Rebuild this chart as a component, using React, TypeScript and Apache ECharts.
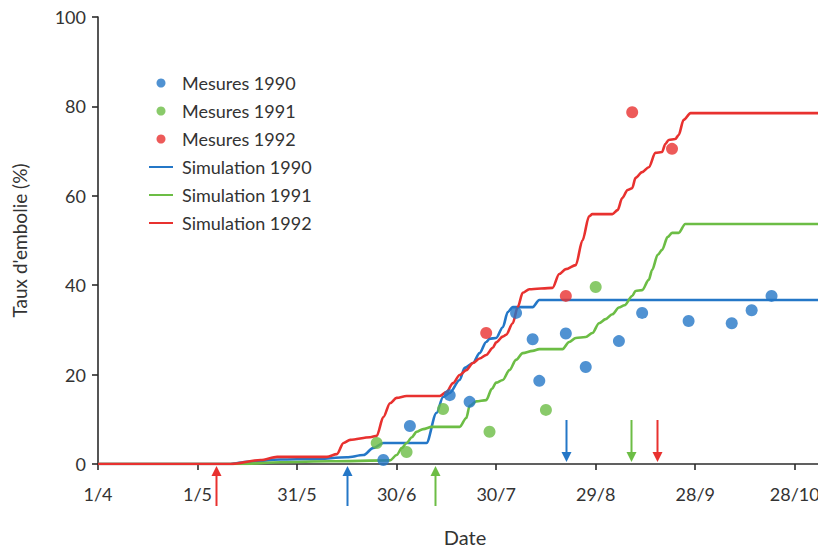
import { useEffect, useRef } from 'react';
import * as echarts from 'echarts';

// x values are days counted from 1 April; ticks every 30 days
const tickLabels = ['1/4', '1/5', '31/5', '30/6', '30/7', '29/8', '28/9', '28/10'];

const mesures1990: [number, number][] = [
  [86, 0.9], [94, 8.5], [106, 15.4], [112, 13.9], [126, 33.8], [131, 27.9],
  [133, 18.6], [141, 29.2], [147, 21.7], [157, 27.5], [164, 33.8], [178, 32],
  [191, 31.5], [197, 34.4], [203, 37.6],
];
const mesures1991: [number, number][] = [
  [84, 4.7], [93, 2.7], [104, 12.3], [118, 7.2], [135, 12.1], [150, 39.6],
];
const mesures1992: [number, number][] = [
  [117, 29.3], [141, 37.6], [161, 78.7], [173, 70.5],
];

const simulation1990: [number, number][] = [
  [0, 0], [40, 0], [45, 0.5], [55, 1], [65, 1.1], [75, 1.5], [80, 2], [83, 3.6],
  [86, 4.7], [99, 4.7], [102, 11.4], [104, 15], [106, 15.9], [109, 18.8],
  [110.5, 21.5], [113, 22.6], [115, 24.8], [117, 27.3], [118, 28], [120, 28.2],
  [122, 30.6], [123.5, 34], [125, 35.1], [131, 35.1], [133, 36.7], [217, 36.7],
];
const simulation1991: [number, number][] = [
  [0, 0], [43, 0], [55, 0.4], [70, 0.6], [88, 0.8], [90, 2], [91.6, 3.6], [93, 4.7],
  [94.6, 6], [96, 7.2], [98, 7.8], [100.6, 8.3], [109, 8.3], [111, 10.3], [112, 13],
  [114, 14], [117, 14.3], [118.7, 16.8], [120, 18.2], [122, 18.8], [124, 21],
  [126, 23.3], [128, 24.8], [131, 25.3], [133, 25.7], [140, 25.7], [142, 27.3],
  [144, 28.2], [147, 28.4], [149, 29.3], [151, 31.5], [153, 32.4], [155, 33.5],
  [157, 35], [158.7, 35.5], [161, 37.6], [162, 38.7], [164, 38.9], [166, 41.2],
  [167, 43.4], [168.7, 46.8], [170, 47.9], [171.7, 50.8], [173, 51.7], [175, 51.7],
  [177, 53.7], [217, 53.7],
];
const simulation1992: [number, number][] = [
  [0, 0], [40, 0], [49, 0.9], [54, 1.6], [69, 1.6], [72, 2.2], [74, 4.7], [76, 5.4],
  [82, 6], [84, 6.3], [86, 10.5], [88, 13.6], [90, 14.8], [93, 15.2], [103, 15.2],
  [105, 16.1], [107, 18.1], [109, 19.9], [111, 21], [113, 22.6], [115, 23.6],
  [117, 24.4], [119, 26], [120, 27.2], [122, 28.5], [123, 28.9], [125, 31.5],
  [126.5, 35.1], [128, 38.3], [130, 39.1], [137, 39.4], [139, 42.5], [141, 43.6],
  [144, 44.5], [146, 50], [148, 55.4], [149, 55.9], [155, 55.9], [156.6, 56.8],
  [158, 59.5], [159.6, 61.3], [161, 61.7], [162, 64], [164, 65.3], [166, 66.4],
  [168, 69.6], [170, 69.8], [171, 71.6], [172, 72.5], [174, 72.7], [175, 73.6],
  [176.5, 77], [178.6, 78.5], [217, 78.5],
];

// event dates marked by arrows: below the axis (pointing up) and above it (pointing down)
const startArrowDays = [75, 101.5, 35.5];
const endArrowDays = [141, 160.5, 168.4];

const BLUE = '#2477C7';
const GREEN = '#6CBD45';
const RED = '#E8312F';
const YEAR_COLORS = [BLUE, GREEN, RED];
const FONT = 'Lato, "Open Sans", sans-serif';
const TEXT = '#333333';
const AXIS = '#2b2b2b';

function simSeries(name: string, data: [number, number][], color: string) {
  return {
    name,
    type: 'line',
    data,
    showSymbol: false,
    symbol: 'none',
    smooth: 0.3,
    smoothMonotone: 'x',
    lineStyle: { color, width: 2.6 },
    itemStyle: { color },
    z: 2,
  };
}

function measSeries(name: string, data: [number, number][], color: string) {
  return {
    name,
    type: 'scatter',
    data,
    symbol: 'circle',
    symbolSize: 12,
    itemStyle: { color },
    z: 3,
  };
}

// vertical arrow with its tip at (x, tipY); dir = -1 points up, 1 points down
function arrow(x: number, tipY: number, length: number, dir: number, color: string) {
  const head = 10;
  const half = 5;
  const baseY = tipY - dir * head;
  return [
    {
      type: 'line',
      silent: true,
      z: 10,
      shape: { x1: x, y1: tipY - dir * length, x2: x, y2: baseY + dir * 1 },
      style: { stroke: color, lineWidth: 2 },
    },
    {
      type: 'polygon',
      silent: true,
      z: 10,
      shape: { points: [[x, tipY], [x - half, baseY], [x + half, baseY]] },
      style: { fill: color },
    },
  ];
}

export default function App() {
  const ref = useRef<HTMLDivElement>(null);

  useEffect(() => {
    if (!ref.current) return;
    const chart = echarts.init(ref.current, undefined, { renderer: 'svg' });
    chart.setOption({
      animation: false,
      backgroundColor: '#ffffff',
      textStyle: { fontFamily: FONT },
      grid: {
        left: 98,
        top: 17,
        right: 0,
        height: 447,
        containLabel: false,
        outerBoundsMode: 'none',
      },
      legend: {
        orient: 'vertical',
        left: 143,
        top: 69,
        itemWidth: 24,
        itemHeight: 9,
        itemGap: 10,
        textStyle: { fontFamily: FONT, fontSize: 18, color: TEXT, lineHeight: 18, padding: [0, 0, 0, 4] },
        data: [
          { name: 'Mesures 1990', icon: 'circle' },
          { name: 'Mesures 1991', icon: 'circle' },
          { name: 'Mesures 1992', icon: 'circle' },
          { name: 'Simulation 1990', itemStyle: { opacity: 0 } },
          { name: 'Simulation 1991', itemStyle: { opacity: 0 } },
          { name: 'Simulation 1992', itemStyle: { opacity: 0 } },
        ],
      },
      xAxis: {
        type: 'value',
        min: 0,
        max: 217,
        interval: 30,
        name: 'Date',
        nameLocation: 'middle',
        nameGap: 63,
        nameTextStyle: { fontFamily: FONT, fontSize: 20, color: TEXT, lineHeight: 20, padding: [0, 0, 0, 14] },
        axisLine: { show: true, onZero: false, lineStyle: { color: AXIS, width: 1.6 } },
        axisTick: { show: true, inside: false, length: 6, lineStyle: { color: AXIS, width: 1.6 } },
        splitLine: { show: false },
        axisLabel: {
          margin: 21,
          fontFamily: FONT,
          fontSize: 18,
          color: TEXT,
          hideOverlap: false,
          formatter: (v: number) => tickLabels[Math.round(v / 30)] ?? '',
        },
      },
      yAxis: {
        type: 'value',
        min: 0,
        max: 100,
        interval: 20,
        name: "Taux d'embolie (%)",
        nameLocation: 'middle',
        nameGap: 69,
        nameTextStyle: { fontFamily: FONT, fontSize: 19, color: TEXT },
        axisLine: { show: true, lineStyle: { color: AXIS, width: 1.6 } },
        axisTick: { show: true, inside: false, length: 6, lineStyle: { color: AXIS, width: 1.6 } },
        splitLine: { show: false },
        axisLabel: { margin: 12, fontFamily: FONT, fontSize: 18, color: TEXT },
      },
      series: [
        simSeries('Simulation 1990', simulation1990, BLUE),
        simSeries('Simulation 1991', simulation1991, GREEN),
        simSeries('Simulation 1992', simulation1992, RED),
        measSeries('Mesures 1990', mesures1990, BLUE),
        measSeries('Mesures 1991', mesures1991, GREEN),
        measSeries('Mesures 1992', mesures1992, RED),
      ],
    });

    // arrows placed at their dates through the x axis scale
    const graphics: any[] = [];
    YEAR_COLORS.forEach((color, i) => {
      const [sx, axisY] = chart.convertToPixel({ gridIndex: 0 }, [startArrowDays[i], 0]) as number[];
      const [ex] = chart.convertToPixel({ gridIndex: 0 }, [endArrowDays[i], 0]) as number[];
      graphics.push(...arrow(Math.round(sx) + 0.5, axisY + 2, 40, -1, color));
      graphics.push(...arrow(Math.round(ex) + 0.5, axisY - 2, 42, 1, color));
    });
    chart.setOption({ graphic: graphics });

    return () => chart.dispose();
  }, []);

  return (
    <div
      ref={ref}
      style={{ position: 'fixed', left: 0, top: 0, width: 818, height: 548 }}
    />
  );
}
